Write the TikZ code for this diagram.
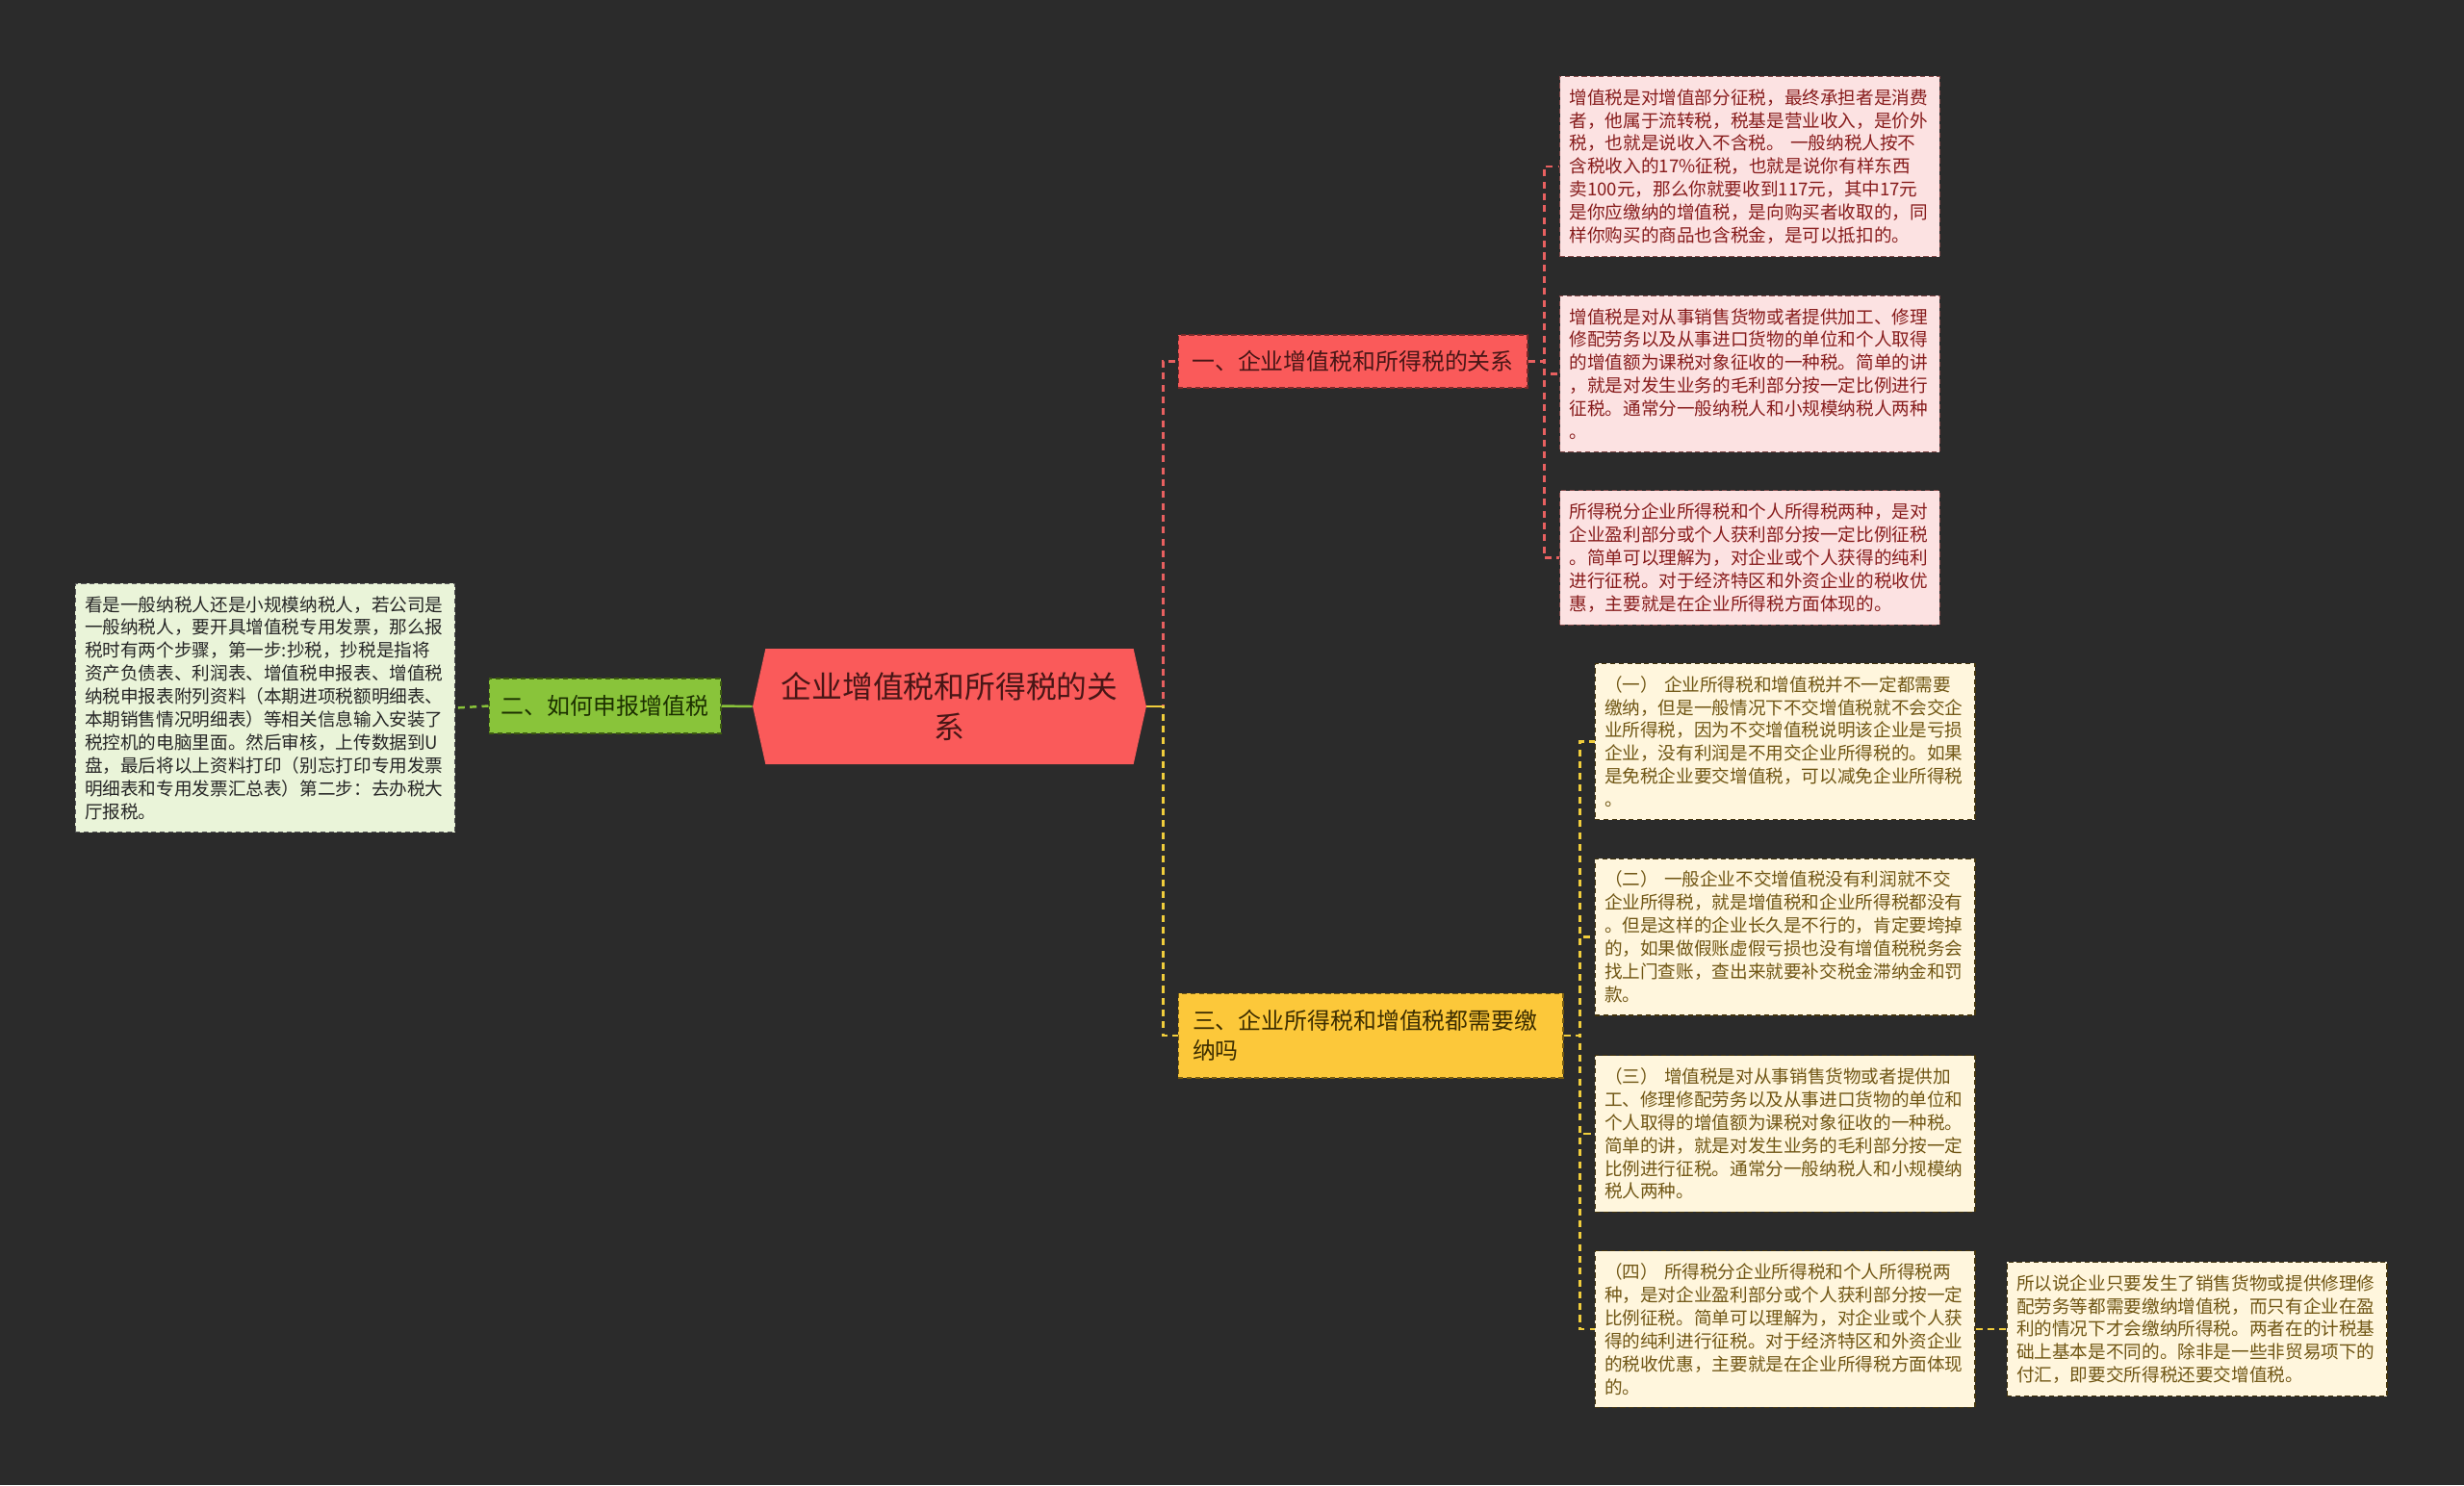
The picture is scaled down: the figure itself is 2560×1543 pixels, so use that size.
\documentclass[tikz,border=0pt]{standalone}
\usepackage{fontspec}
\setmainfont{Noto Sans CJK SC}
\usepackage{tikz}
\usetikzlibrary{shapes.symbols}

\definecolor{bgdark}{RGB}{43,43,43}
\definecolor{rootred}{RGB}{250,90,90}
\definecolor{rootink}{RGB}{72,22,22}
\definecolor{redleaf}{RGB}{252,226,226}
\definecolor{redink}{RGB}{135,28,28}
\definecolor{redline}{RGB}{232,96,96}
\definecolor{ylwfill}{RGB}{252,200,58}
\definecolor{ylwink}{RGB}{60,45,0}
\definecolor{ylwleaf}{RGB}{255,246,221}
\definecolor{ylwleafink}{RGB}{112,86,20}
\definecolor{ylwline}{RGB}{240,205,60}
\definecolor{grnfill}{RGB}{137,196,58}
\definecolor{grnink}{RGB}{28,48,0}
\definecolor{grnleaf}{RGB}{234,244,217}

\begin{document}
\begin{tikzpicture}[
    x=0.02cm, y=-0.02cm,
    root/.style={signal, signal to=east and west, signal pointer angle=155, fill=rootred, text=rootink, align=center, minimum width=8.18cm, minimum height=2.4cm, inner sep=2pt, font=\fontsize{18.1}{24}\selectfont},
    branch/.style={draw, densely dashed, line width=0.6pt, font=\fontsize{13.6}{17.6}\selectfont},
    leaf/.style={draw, densely dashed, line width=0.6pt, align=left, text width=7.5cm, inner xsep=0.2cm, inner ysep=0.26cm, font=\fontsize{10.6}{13.6}\selectfont},
    redleafbox/.style={leaf, fill=redleaf, draw=redink!55!gray, text=redink},
    ylwleafbox/.style={leaf, fill=ylwleaf, draw=ylwleafink!60!black, text=ylwleafink},
    grnleafbox/.style={leaf, fill=grnleaf, draw=black!65, text=black!85},
    redwire/.style={redline, line width=1.4pt, dash pattern=on 4pt off 3pt},
    ylwwire/.style={ylwline, line width=1.4pt, dash pattern=on 4pt off 3pt},
    grnwire/.style={grnfill, line width=1.4pt, dash pattern=on 4pt off 3pt}
]
\fill[bgdark] (0,0) rectangle (2560,1543);

\node[root] (root) at (986.5,734) {企业增值税和所得税的关\\系};
\node[branch, fill=rootred, draw=rootink!70!rootred, text=rootink, minimum width=7.26cm, minimum height=1.1cm] (rel) at (1405.5,375.5) {一、企业增值税和所得税的关系};
\node[branch, fill=grnfill, draw=grnink!70!grnfill, text=grnink, minimum width=4.82cm, minimum height=1.14cm] (howto) at (628.5,733.5) {二、如何申报增值税};
\node[branch, fill=ylwfill, draw=ylwink!70!ylwfill, text=ylwink, align=left, text width=7.4cm, inner xsep=0.3cm, minimum height=1.76cm] (both) at (1424,1076) {三、企业所得税和增值税都需要缴\\纳吗};

\node[redleafbox] (rel1) at (1818,173) {增值税是对增值部分征税，最终承担者是消费\\者，他属于流转税，税基是营业收入，是价外\\税，也就是说收入不含税。 一般纳税人按不\\含税收入的17\%征税，也就是说你有样东西\\卖100元，那么你就要收到117元，其中17元\\是你应缴纳的增值税，是向购买者收取的，同\\样你购买的商品也含税金，是可以抵扣的。};
\node[redleafbox] (rel2) at (1818,388.5) {增值税是对从事销售货物或者提供加工、修理\\修配劳务以及从事进口货物的单位和个人取得\\的增值额为课税对象征收的一种税。简单的讲\\，就是对发生业务的毛利部分按一定比例进行\\征税。通常分一般纳税人和小规模纳税人两种\\。};
\node[redleafbox] (rel3) at (1818,579.5) {所得税分企业所得税和个人所得税两种，是对\\企业盈利部分或个人获利部分按一定比例征税\\。简单可以理解为，对企业或个人获得的纯利\\进行征税。对于经济特区和外资企业的税收优\\惠，主要就是在企业所得税方面体现的。};

\node[grnleafbox] (howleaf) at (275.5,735.5) {看是一般纳税人还是小规模纳税人，若公司是\\一般纳税人，要开具增值税专用发票，那么报\\税时有两个步骤，第一步:抄税，抄税是指将\\资产负债表、利润表、增值税申报表、增值税\\纳税申报表附列资料（本期进项税额明细表、\\本期销售情况明细表）等相关信息输入安装了\\税控机的电脑里面。然后审核，上传数据到U\\盘，最后将以上资料打印（别忘打印专用发票\\明细表和专用发票汇总表）第二步：去办税大\\厅报税。};

\node[ylwleafbox] (both1) at (1854.5,770.5) {（一） 企业所得税和增值税并不一定都需要\\缴纳，但是一般情况下不交增值税就不会交企\\业所得税，因为不交增值税说明该企业是亏损\\企业，没有利润是不用交企业所得税的。如果\\是免税企业要交增值税，可以减免企业所得税\\。};
\node[ylwleafbox] (both2) at (1854.5,973.5) {（二） 一般企业不交增值税没有利润就不交\\企业所得税，就是增值税和企业所得税都没有\\。但是这样的企业长久是不行的，肯定要垮掉\\的，如果做假账虚假亏损也没有增值税税务会\\找上门查账，查出来就要补交税金滞纳金和罚\\款。};
\node[ylwleafbox] (both3) at (1854.5,1178) {（三） 增值税是对从事销售货物或者提供加\\工、修理修配劳务以及从事进口货物的单位和\\个人取得的增值额为课税对象征收的一种税。\\简单的讲，就是对发生业务的毛利部分按一定\\比例进行征税。通常分一般纳税人和小规模纳\\税人两种。};
\node[ylwleafbox] (both4) at (1854.5,1381) {（四） 所得税分企业所得税和个人所得税两\\种，是对企业盈利部分或个人获利部分按一定\\比例征税。简单可以理解为，对企业或个人获\\得的纯利进行征税。对于经济特区和外资企业\\的税收优惠，主要就是在企业所得税方面体现\\的。};
\node[ylwleafbox] (both4a) at (2282.5,1381) {所以说企业只要发生了销售货物或提供修理修\\配劳务等都需要缴纳增值税，而只有企业在盈\\利的情况下才会缴纳所得税。两者在的计税基\\础上基本是不同的。除非是一些非贸易项下的\\付汇，即要交所得税还要交增值税。};

% root to main branches
\draw[redwire] (root.east) -- ++(17,0) |- (rel.west);
\draw[ylwwire] (root.east) -- ++(17,0) |- (both.west);
\draw[ylwline, line width=1.4pt] (root.east) -- ++(17,0);
\draw[grnfill, line width=1.4pt] (root.west) -- (howto.east);
\draw[grnwire] (howto.west) -- (howleaf.east);

% branch one
\draw[redwire] (rel.east) -- ++(17,0) |- (rel1.west);
\draw[redwire] (rel.east) -- ++(17,0) |- (rel2.west);
\draw[redwire] (rel.east) -- ++(17,0) |- (rel3.west);

% branch three
\draw[ylwwire] (both.east) -- ++(17,0) |- (both1.west);
\draw[ylwwire] (both.east) -- ++(17,0) |- (both2.west);
\draw[ylwwire] (both.east) -- ++(17,0) |- (both3.west);
\draw[ylwwire] (both.east) -- ++(17,0) |- (both4.west);
\draw[ylwwire] (both4.east) -- (both4a.west);
\end{tikzpicture}
\end{document}
